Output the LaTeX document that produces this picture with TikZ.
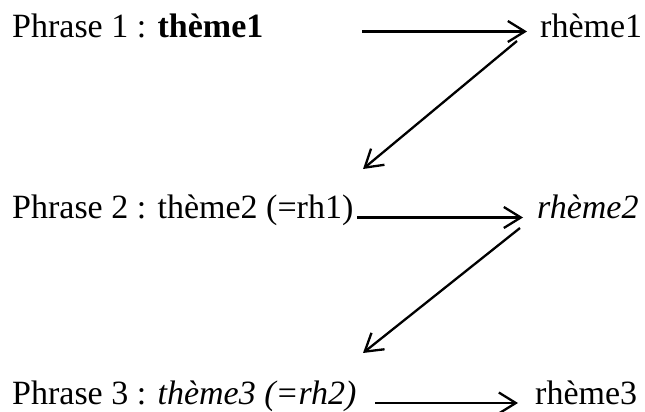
\documentclass[tikz,border=0pt]{standalone}
\usepackage{fontspec}
\setmainfont{Liberation Serif}
\usetikzlibrary{arrows.meta}
\begin{document}
\begin{tikzpicture}[x=1pt,y=1pt,
  label/.style={anchor=base west,inner sep=0pt,font=\fontsize{34}{40}\selectfont},
  link/.style={line width=2.3pt,-{Straight Barb[length=17pt,width=21pt,line width=2.3pt]}}]
\useasboundingbox (0,0) rectangle (645,412);
% sentence lines
\node[label] (p1) at (12,374) {Phrase 1 : \textbf{thème1}};
\node[label] (r1) at (540,374) {rhème1};
\node[label] (p2) at (12,193) {Phrase 2 : thème2 (=rh1)};
\node[label] (r2) at (537,193) {\textit{rhème2}};
\node[label] (p3) at (12,7) {Phrase 3 : \textit{thème3 (=rh2)}};
\node[label] (r3) at (535,7) {rhème3};
% arrow end points
\coordinate (h1s) at (362,380.5);
\coordinate (h1e) at (527,380.5);
\coordinate (h2s) at (357,194.5);
\coordinate (h2e) at (523,194.5);
\coordinate (h3s) at (375,9);
\coordinate (h3e) at (518,9);
\coordinate (d1s) at (517,371);
\coordinate (d1e) at (363,243);
\coordinate (d2s) at (520,184);
\coordinate (d2e) at (363,59);
% theme -> rheme
\draw[link] (h1s) -- (h1e);
\draw[link] (h2s) -- (h2e);
\draw[link] (h3s) -- (h3e);
% rheme -> next theme
\draw[link] (d1s) -- (d1e);
\draw[link] (d2s) -- (d2e);
\end{tikzpicture}
\end{document}
